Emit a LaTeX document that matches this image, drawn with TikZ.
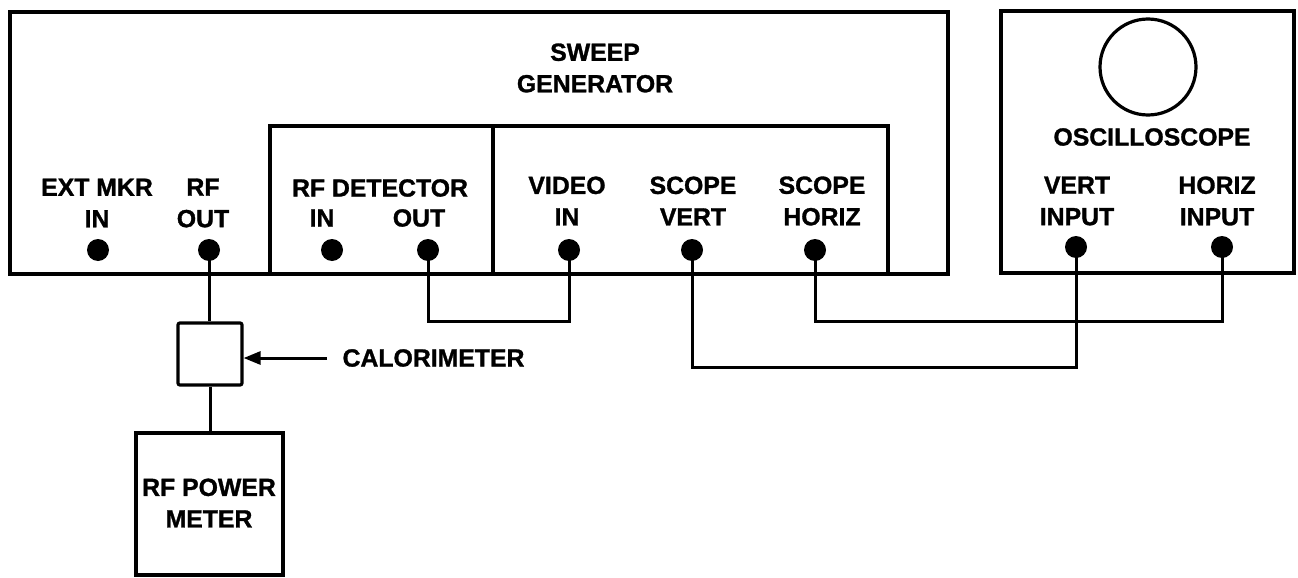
\documentclass[tikz,border=0pt]{standalone}
\usepackage{fontspec}
\setmainfont{Liberation Sans}[BoldFeatures={FakeBold=1.2}]
\usetikzlibrary{arrows.meta}
\begin{document}
\begin{tikzpicture}[x=1pt,y=-1pt,line width=3.2pt,
  box/.style={draw,rectangle,inner sep=0pt,line join=miter},
  lbl/.style={font=\fontsize{24.8}{31.5}\selectfont\bfseries,align=center,inner sep=0pt},
  port/.style={circle,fill,draw=none,minimum size=22pt,inner sep=0pt},
  wire/.style={line width=3pt,line join=miter}]
\useasboundingbox (0,0) rectangle (1298,578);

% sweep generator
\node[box,minimum width=938pt,minimum height=262pt] (sweep) at (479,143) {};
\draw (270,274) -- (270,126) -- (888,126) -- (888,274);
\draw (493,126) -- (493,274);
\node[lbl] (sweeplbl) at (595,68) {SWEEP\\GENERATOR};

% oscilloscope
\node[box,minimum width=293pt,minimum height=262pt] (osc) at (1147.5,142) {};
\node[draw,circle,minimum size=96pt,inner sep=0pt] (screen) at (1148,67) {};
\node[lbl] (osclbl) at (1152,137) {OSCILLOSCOPE};

% labels
\node[lbl] (extlbl) at (97,203) {EXT MKR\\IN};
\node[lbl] (rfoutlbl) at (203,203) {RF\\OUT};
\node[lbl] (detlbl) at (380,188) {RF DETECTOR};
\node[lbl] (detinlbl) at (322,218) {IN};
\node[lbl] (detoutlbl) at (419,218) {OUT};
\node[lbl] (vidlbl) at (567,201) {VIDEO\\IN};
\node[lbl] (svlbl) at (693,201) {SCOPE\\VERT};
\node[lbl] (shlbl) at (822,201) {SCOPE\\HORIZ};
\node[lbl] (vilbl) at (1077,201) {VERT\\INPUT};
\node[lbl] (hilbl) at (1217,201) {HORIZ\\INPUT};

% ports
\node[port] (extin) at (98,250) {};
\node[port] (rfout) at (209,250) {};
\node[port] (detin) at (332,250) {};
\node[port] (detout) at (428,250) {};
\node[port] (vidin) at (569,250) {};
\node[port] (svert) at (692,250) {};
\node[port] (shoriz) at (815,250) {};
\node[port] (vinput) at (1076,247) {};
\node[port] (hinput) at (1222,247) {};

% calorimeter and power meter
\node[box,rounded corners=2pt,minimum width=64pt,minimum height=62pt] (cal) at (210,354) {};
\node[lbl,anchor=west] (callbl) at (341,358) {CALORIMETER};
\node[box,minimum width=147pt,minimum height=142pt] (pm) at (209.5,504) {};
\node[lbl] (pmlbl) at (209,503) {RF POWER\\METER};

% connectors
\draw[wire] (rfout.center) -- (rfout.center |- cal.north);
\draw[wire] (cal.south) -- (cal.south |- pm.north);
\draw[wire,-{Triangle[length=17pt,width=13pt]}] (callbl.west) ++(-14,0) coordinate (calarr) -- (cal.east |- calarr);
\draw[wire] (detout.center) -- (428,321) -| (vidin.center);
\draw[wire] (svert.center) -- (692,367) -| (vinput.center);
\draw[wire] (shoriz.center) -- (815,321) -| (hinput.center);
\end{tikzpicture}
\end{document}
